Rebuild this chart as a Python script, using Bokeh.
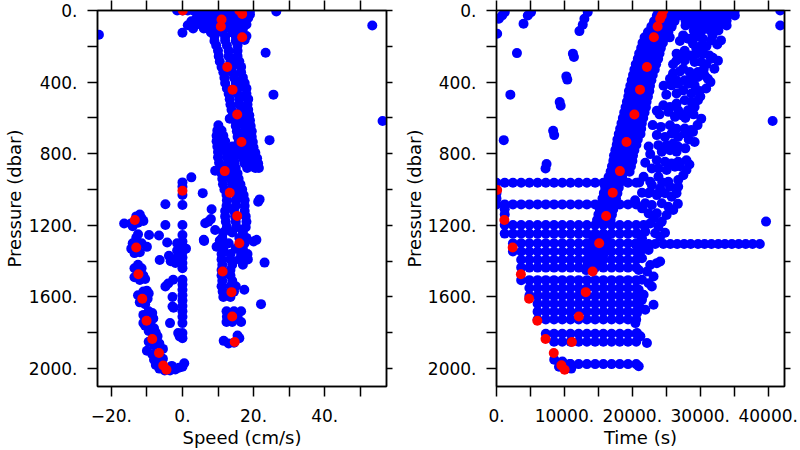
from bokeh.plotting import figure
from bokeh.models import Range1d, LinearAxis, FixedTicker, CustomJSTickFormatter
from bokeh.layouts import row
from bokeh.embed import file_html
from bokeh.resources import INLINE

FONT = "DejaVu Sans"
BLUE = "#0000ff"
RED = "#ff0000"

# ---------------- Left panel: speed (cm/s) vs pressure (dbar) ----------------
speed_surface = [
    (-1.5, 0), (0, 0), (1.5, 0), (3, 0), (4.5, 0), (6, 0), (7.5, 0), (9, 0), (10.5, 0), (12, 0),
    (13.5, 0), (15, 0), (17, 0), (19, 0), (26.4, 6),
    (5, 20), (8, 20), (11, 20), (14, 20), (17, 20), (19, 22),
    (4, 40), (7, 40), (10, 40), (13, 40), (16, 40), (18.5, 42),
    (2.5, 60), (5.5, 60), (8.5, 60), (11.5, 60), (14.5, 60), (17.5, 62),
    (1.5, 82), (4, 78), (7, 80), (10, 80), (13, 80), (16, 80), (18, 78),
    (3, 100), (6, 100), (9, 104), (12, 100), (15, 100), (17, 104),
    (0, 124), (8, 122), (11, 120), (14, 122), (16.5, 124),
    (9, 145), (12, 148), (15, 145), (18, 142),
    (9, 170), (12, 168), (15, 170), (17.5, 165),
]
speed_band1 = [
    (9.5, 195), (12.5, 195), (15.5, 195), (10, 225), (13, 225), (15.5, 225),
    (10.2, 255), (13, 255), (15.5, 255), (10.5, 285), (13.5, 285), (16, 285),
    (11, 315), (14, 315), (16.5, 315), (11.5, 345), (14, 345), (16.5, 345),
    (11.8, 375), (14.5, 375), (17, 375), (12, 405), (15, 405), (17.5, 405),
    (12.5, 435), (15.5, 435), (18, 435), (13, 465), (15.5, 465), (18, 465),
    (13.3, 495), (16, 495), (18.5, 495), (13.5, 525), (16, 525), (18.3, 525),
    (13.8, 555), (16.5, 555), (18.5, 555), (14.2, 585), (16.8, 585), (18.8, 585),
    (14.8, 615), (17, 615), (19, 615), (15, 645), (17.5, 645), (19.2, 645),
    (15.3, 675), (17.5, 675), (19.5, 675), (15.5, 705), (17.8, 705), (19.5, 705),
    (15.8, 735), (18, 735), (19.8, 735), (16.2, 765), (18.5, 765), (20, 765),
    (16.5, 795), (18.5, 795), (20.5, 795), (17, 825), (19, 825), (21, 825),
    (17.5, 855), (19.5, 855), (21.3, 855), (18.2, 880), (20.5, 880), (21.5, 880),
]
speed_band2 = [
    (10.1, 641), (9.8, 670), (11, 670), (9.6, 700), (11.5, 700),
    (9.6, 730), (12, 730), (9.8, 760), (12, 760), (14, 760),
    (10, 790), (12.3, 790), (14.3, 790), (10, 820), (12.5, 820), (14.5, 820),
    (10.3, 850), (12.8, 850), (14.7, 850), (10.8, 880), (13, 880), (15, 880),
    (11, 910), (13.3, 910), (15.5, 910), (11.2, 940), (13.5, 940), (15.8, 940),
    (11.4, 970), (14, 970), (16.3, 970), (11.8, 1000), (14.5, 1000), (16.8, 1000),
    (12.4, 1030), (15, 1030), (17.2, 1030), (12.5, 1060), (15, 1060), (17.5, 1060),
    (12.4, 1090), (15, 1090), (17.5, 1090), (12, 1120), (14.5, 1120), (17.5, 1120),
    (12, 1150), (14.8, 1150), (17.8, 1150), (12.2, 1180), (15, 1180), (18, 1180),
    (12.5, 1210), (15.2, 1210), (17.8, 1210), (11.5, 1240), (14, 1240), (17, 1240),
    (11.2, 1270), (16, 1270), (18, 1270), (11, 1300), (13, 1300), (17.5, 1300),
    (11.5, 1330), (15, 1330), (17, 1330), (11, 1360), (13.5, 1360), (16.5, 1360), (18.3, 1360),
    (11, 1390), (13.5, 1390), (16, 1390), (18.4, 1390), (11.2, 1420), (14, 1420), (17, 1420),
    (11, 1450), (13.5, 1450), (11, 1480), (13.5, 1480), (11.2, 1510), (14, 1510),
    (11, 1540), (13.5, 1540), (15, 1540), (11.3, 1570), (14.5, 1570), (11.5, 1600), (13.5, 1600),
    (12.4, 1680), (14.5, 1680), (16.5, 1680), (12.5, 1710), (15.5, 1710),
    (12.4, 1740), (14, 1740), (16.5, 1740),
    (11.6, 1845), (13, 1860), (14.5, 1855), (16, 1830), (15.5, 1815),
]
speed_negative = [
    (-16.4, 1190), (-14.5, 1190), (-13, 1150), (-12, 1140), (-11.5, 1160), (-12.5, 1185), (-14, 1205), (-11, 1175),
    (-14.4, 1330), (-14, 1300), (-13, 1270), (-12.5, 1250), (-11.5, 1300), (-10, 1320), (-12, 1350), (-13.5, 1355),
    (-13.5, 1440), (-12.5, 1420), (-12, 1450), (-11, 1480), (-13.5, 1490), (-10.5, 1500), (-12, 1505), (-11.5, 1440),
    (-12.5, 1590), (-11, 1570), (-10, 1565), (-9.5, 1580), (-12, 1630), (-10.5, 1640), (-9.8, 1610),
    (-11, 1700), (-9.5, 1680), (-8.5, 1690), (-10.5, 1760), (-9, 1740), (-11, 1745), (-8.2, 1720),
    (-9.5, 1790), (-8, 1775), (-9.5, 1850), (-7, 1820), (-8, 1870), (-6.5, 1860), (-7.5, 1800),
    (-10, 1900), (-8.5, 1920), (-7.5, 1935), (-5.5, 1890), (-5.5, 1945), (-8, 1950),
    (-7.5, 1980), (-6.5, 2000), (-5, 2010), (-3.5, 2010), (-2, 2005), (-1, 1995), (0, 1990),
    (0.5, 1970), (-3, 1985), (-6, 1975),
]
speed_near_zero = [
    (0, 960), (0, 985), (0, 1030), (2.5, 932), (5.7, 1020), (0, 1086), (0, 1198), (0, 1254),
    (0, 1290), (0, 1320), (0, 1350), (0, 1380), (0, 1410), (0, 1439), (0, 1504), (0, 1530),
    (0, 1560), (0, 1590), (0, 1620), (0, 1650), (0, 1680), (0, 1710), (0, 1746), (0, 1801),
    (0, 1830), (-1.5, 1300), (-1.5, 1340), (-1.5, 1380), (-2, 1410), (-0.5, 1400), (1, 1330),
    (-1, 1360), (-4.8, 1082), (-4.8, 1198), (-6.6, 1257), (-9.4, 1254), (-4.3, 1296), (-6.4, 1393),
    (-3.8, 1370), (-3.3, 1400), (-4.8, 1541), (-4, 1525), (-2.6, 1504), (-2.8, 1600), (-3.5, 1746),
    (-2.8, 1653), (-1.2, 1801), (-0.8, 1820), (-2.5, 1660),
]
speed_outliers = [
    (-23.5, 135), (53.4, 84), (56.3, 617), (23.4, 236), (25.6, 470), (13.3, 604), (24.5, 724),
    (9.2, 895), (19.9, 873), (21.7, 1055), (21.3, 1068), (8.2, 1110), (7.3, 1179), (8, 1165),
    (9.2, 1226), (6.1, 1287), (9.6, 1319), (10.5, 1285), (20.8, 1281), (20, 1290), (23.1, 1408),
    (17.4, 1560), (22.1, 1640), (6.4, 1188), (6, 1281),
]
speed_red_v = [0.1, 16, 16.8, 11, 10.8, 16.8, 12.6, 14.1, 15.4, 16.6, 11.9, 13.3, 15.4, 16, 11.3,
               13.8, 14, 14.7, 0, -13.4, -13, -12.4, -11.3, -10.1, -8.5, -6.6, -5.4, -4.5]
speed_red_p = [0, 0, 19, 50, 89, 149, 316, 442, 581, 734, 897, 1018, 1148, 1300, 1458,
               1573, 1709, 1851, 1007, 1170, 1324, 1473, 1610, 1733, 1835, 1913, 1983, 2006]

# ---------------- Right panel: time (s) vs pressure (dbar) ----------------
time_sparse = [
    (1220, 9), (830, 28), (350, 46), (100, 130),
    (5090, 9), (4610, 28), (3980, 74), (3010, 238), (2040, 470), (1070, 724),
    (13430, 9), (12940, 46), (12700, 80), (12210, 115), (11250, 241), (11400, 260),
    (10280, 368), (10420, 386), (9300, 511), (9450, 532), (8340, 672), (8490, 696),
    (7370, 858), (7220, 882),
    (41770, 0), (41770, 84), (40650, 617), (39680, 1179),
]
time_band_p = [0, 30, 60, 90, 120, 150, 180, 210, 240, 270, 300, 330, 360, 390, 420, 450, 480,
               510, 540, 570, 600, 630, 660, 690, 720, 750, 780, 810, 840, 870, 900, 930, 990,
               1020, 1050, 1110, 1140, 1170, 1260, 1290, 1330, 1360, 1390, 1420, 1450]
time_band_t = [
    [23800, 24800, 25800, 26800], [23600, 24600, 25600, 26700], [23200, 24200, 25200, 26200],
    [22800, 23800, 24800, 25800], [22300, 23300, 24300, 25300], [21800, 22800, 23800, 24800, 25500],
    [21500, 22500, 23500, 24500], [21300, 22300, 23300, 24200], [21000, 22000, 23000, 24000],
    [20800, 21800, 22800, 23800], [20500, 21500, 22500, 23500], [20300, 21300, 22300, 23300],
    [20100, 21100, 22100, 23000], [19900, 20900, 21900, 22800], [19700, 20700, 21700, 22600],
    [19500, 20500, 21500, 22500], [19400, 20300, 21300, 22300], [19200, 20100, 21100, 22100],
    [19000, 20000, 21000, 22000], [18800, 19800, 20800, 21800], [18600, 19600, 20600, 21600],
    [18400, 19400, 20400, 21400], [18200, 19200, 20200, 21300], [18000, 19000, 20000, 21200],
    [17800, 18800, 19800, 20800], [17700, 18700, 19700, 20600], [17500, 18500, 19500, 20300],
    [17300, 18300, 19300, 20100], [17200, 18100, 19100, 20000], [17000, 17900, 18900, 19800],
    [16800, 17700, 18700, 19600], [16500, 17500, 18500], [16000, 17000, 18000],
    [15800, 16800, 17800], [15600, 16600, 17600], [15200, 16200, 17200], [15000, 16000, 17000],
    [14800, 15800, 16800], [14300, 15300, 16300], [14100, 15100, 16100], [14000, 15000, 16000],
    [13800, 14800, 15800], [13600, 14600, 15600], [13400, 14400, 15400], [13200, 14200],
]
time_second = [
    (27480, 139), (28200, 158), (28930, 149), (29660, 145), (30380, 158), (31600, 167), (33050, 167),
    (27000, 170), (30900, 200), (31800, 140), (32500, 190),
    (28930, 186), (29410, 214), (30140, 195),
    (26510, 241), (27230, 251), (28450, 251), (29410, 241), (30380, 241), (31350, 251), (31840, 264),
    (27700, 225), (29900, 225), (30900, 300), (32600, 280), (26000, 300),
    (26510, 279), (27720, 279), (29170, 288), (30140, 288), (31600, 269),
    (27480, 325), (28450, 344), (29660, 344), (32080, 325),
    (26000, 350), (27000, 340), (30500, 330), (31500, 400),
    (25540, 381), (26510, 390), (27720, 390), (28690, 381), (29660, 371), (30630, 362), (31110, 381),
    (25780, 418), (26750, 409), (28200, 409), (29170, 418), (30870, 436),
    (25000, 470), (29900, 450), (30000, 480), (24600, 420),
    (26510, 464), (27480, 446), (28690, 464),
    (24570, 529), (25540, 539), (26510, 520), (27720, 501), (28690, 511), (29660, 501),
    (24000, 580), (27800, 600), (29000, 580), (23600, 560),
    (25300, 566), (26750, 557), (28200, 557), (29170, 539),
    (26270, 594), (27230, 585), (30140, 604),
    (24200, 650), (26500, 660), (29600, 640), (23000, 640),
    (25540, 641), (27720, 659), (28690, 668),
    (23600, 696), (24810, 706), (25780, 687), (26750, 706), (27720, 687), (28930, 678),
    (22400, 760), (27800, 770), (28300, 720),
    (23840, 752), (25050, 752), (26020, 743), (26750, 761), (29170, 734),
    (24330, 789), (25540, 780), (26510, 789),
    (21900, 850), (27000, 870), (28400, 860),
    (22630, 802), (23600, 836), (24810, 845), (25780, 854), (26750, 845), (27960, 836),
    (22870, 882), (23840, 882), (25050, 891), (26270, 873), (27960, 891),
    (21000, 960), (27500, 920), (24400, 960),
    (21660, 929), (22630, 956), (23840, 929), (25300, 956), (26750, 947),
    (22870, 975), (24090, 993), (25540, 984), (26750, 984),
    (20400, 1060), (26500, 1020), (26700, 1080),
    (21420, 1018), (22390, 1021), (23600, 1031), (24810, 1021), (25780, 1040),
    (22630, 1012), (23840, 1021), (21900, 1077), (22870, 1086), (24330, 1077), (25300, 1096),
    (26020, 1114), (21420, 1105), (22390, 1133), (23600, 1133), (25050, 1142), (23120, 1161),
    (24330, 1179), (21660, 1198), (22630, 1189), (23840, 1207), (20690, 1244), (21900, 1235),
    (23360, 1244), (24810, 1241), (24090, 1263), (21420, 1272),
    (20450, 1304), (21420, 1304), (22390, 1304), (23360, 1304), (24570, 1304), (25590, 1304),
    (26600, 1304), (27620, 1304), (28590, 1304), (29660, 1304), (30630, 1304), (31640, 1304),
    (32660, 1304), (33630, 1304), (34650, 1304), (35660, 1304), (36680, 1304), (37700, 1304),
    (38770, 1304),
    (21180, 1346), (22390, 1337), (21420, 1384), (22630, 1421), (23600, 1411), (24090, 1402),
    (20940, 1449), (22150, 1458), (23120, 1486), (21420, 1504), (22390, 1523), (22870, 1541),
    (20940, 1560), (21660, 1588), (21420, 1616), (23120, 1643), (21180, 1662), (21900, 1671),
    (20690, 1690), (20450, 1746), (20690, 1801), (21180, 1820), (22150, 1857), (20940, 1987),
    (9200, 1990), (10400, 1995), (10800, 1975), (9700, 1960), (8500, 1950), (11000, 2000),
    (0, 1020), (0, 1050), (1210, 1110), (1210, 1140),
]
# sampling columns (s) and the rows of the regular sampling pattern
grid_col_t = [0, 1210, 2420, 3630, 4840, 6050, 7260, 8470, 9680, 10890, 12100, 13310, 14520,
              15730, 16940, 18150, 19360, 20570, 21780, 22990, 24200, 25410, 26620, 27830,
              29040, 30250, 31460, 32670, 33880, 35090]
grid_row_p = [962, 1083, 1198, 1246, 1300, 1346, 1392, 1436, 1506, 1550, 1594, 1638, 1682,
              1726, 1805, 1850, 1975, 0, 28, 56, 84, 112]
grid_row_first = [0, 0, 1, 1, 2, 2, 3, 3, 3, 4, 4, 5, 5, 5, 6, 7, 8, 23, 23, 23, 23, 24]
grid_row_last = [17, 17, 17, 17, 17, 17, 17, 17, 17, 17, 17, 17, 17, 17, 17, 17, 17, 29, 29, 28, 28, 27]

time_red_t = [24560, 24330, 24100, 23720, 23170, 22150, 21130, 20300, 19140, 18170, 17110,
              16140, 15120, 14150, 13140, 12120, 11100,
              100, 1160, 2380, 3590, 4800, 6010, 7220, 8430, 9550, 10030]
time_red_p = [0, 28, 46, 89, 149, 316, 442, 581, 734, 897, 1018, 1148, 1300, 1458, 1573, 1709,
              1851, 1003, 1170, 1324, 1473, 1610, 1733, 1835, 1913, 1982, 2006]

p_ticks = [0, 200, 400, 600, 800, 1000, 1200, 1400, 1600, 1800, 2000]
speed_ticks = [-20, -10, 0, 10, 20, 30, 40, 50]
time_ticks = [0, 5000, 10000, 15000, 20000, 25000, 30000, 35000, 40000]

# ---------------- assemble ----------------
speed_blue = speed_surface + speed_band1 + speed_band2 + speed_negative + speed_near_zero + speed_outliers
sv = [a for a, b in speed_blue]
sp = [b for a, b in speed_blue]

time_blue = list(time_sparse) + list(time_second)
for pv, ts in zip(time_band_p, time_band_t):
    time_blue += [(t, pv) for t in ts]
for pv, k0, k1 in zip(grid_row_p, grid_row_first, grid_row_last):
    time_blue += [(grid_col_t[k], pv) for k in range(k0, k1 + 1)]
tv = [a for a, b in time_blue]
tp = [b for a, b in time_blue]

P_FMT = CustomJSTickFormatter(code="""
if (Math.abs(tick % 400) > 1e-6) { return ''; }
return tick.toFixed(0) + '.';
""")
S_FMT = CustomJSTickFormatter(code="""
if (Math.abs(tick % 20) > 1e-6) { return ''; }
var s = Math.abs(tick).toFixed(0) + '.';
return tick < 0 ? '\\u2212' + s : s;
""")
T_FMT = CustomJSTickFormatter(code="""
if (Math.abs(tick % 10000) > 1e-6) { return ''; }
return tick.toFixed(0) + '.';
""")


def style_axis(ax, ticks, fmt=None, out=10):
    ax.ticker = FixedTicker(ticks=ticks, minor_ticks=[])
    ax.major_tick_out = out
    ax.major_tick_in = 0
    ax.minor_tick_out = 0
    ax.minor_tick_in = 0
    ax.axis_line_color = "black"
    ax.axis_line_width = 1.5
    ax.major_tick_line_color = "black"
    ax.major_tick_line_width = 1.5
    if fmt is None:
        ax.formatter = CustomJSTickFormatter(code="return '';")
        ax.major_label_text_font_size = "0px"
        ax.major_label_standoff = 0
        ax.axis_label = None
    else:
        ax.formatter = fmt
        ax.major_label_text_font = FONT
        ax.major_label_text_font_size = "17px"
        ax.major_label_text_color = "black"
    ax.axis_label_text_font = FONT
    ax.axis_label_text_font_size = "18px"
    ax.axis_label_text_font_style = "normal"
    ax.axis_label_text_color = "black"


def make_fig(xr, width, left, right, xticks, xfmt, xlabel, ylab_standoff, xs, ys, rx, ry):
    p = figure(width=width, height=450, x_range=xr, y_range=Range1d(2100, 0),
               output_backend="svg", toolbar_location=None,
               min_border_left=left, min_border_right=right,
               min_border_top=10, min_border_bottom=63)
    p.grid.visible = False
    p.outline_line_color = "black"
    p.outline_line_width = 1.5
    p.background_fill_color = "white"
    p.border_fill_color = "white"
    p.scatter(xs, ys, size=10, color=BLUE, line_color=None)
    p.scatter(rx, ry, size=10, color=RED, line_color=None)

    xb = p.xaxis[0]
    style_axis(xb, xticks, xfmt)
    xb.axis_label = xlabel
    xb.major_label_standoff = 12
    xb.axis_label_standoff = 2

    yl = p.yaxis[0]
    style_axis(yl, p_ticks, P_FMT)
    yl.axis_label = "Pressure (dbar)"
    yl.major_label_standoff = 10
    yl.axis_label_standoff = ylab_standoff

    top = LinearAxis()
    style_axis(top, xticks, None, out=10)
    p.add_layout(top, "above")
    rt = LinearAxis()
    style_axis(rt, p_ticks, None, out=6)
    p.add_layout(rt, "right")
    return p


p1 = make_fig(Range1d(-23.9, 57.4), 400, 95, 14, speed_ticks, S_FMT, "Speed (cm/s)", 1,
              sv, sp, speed_red_v, speed_red_p)
p2 = make_fig(Range1d(0, 42400), 400, 94, 16, time_ticks, T_FMT, "Time (s)", 0,
              tv, tp, time_red_t, time_red_p)

layout = row(p1, p2)
open("out.html", "w").write(file_html(layout, INLINE))
